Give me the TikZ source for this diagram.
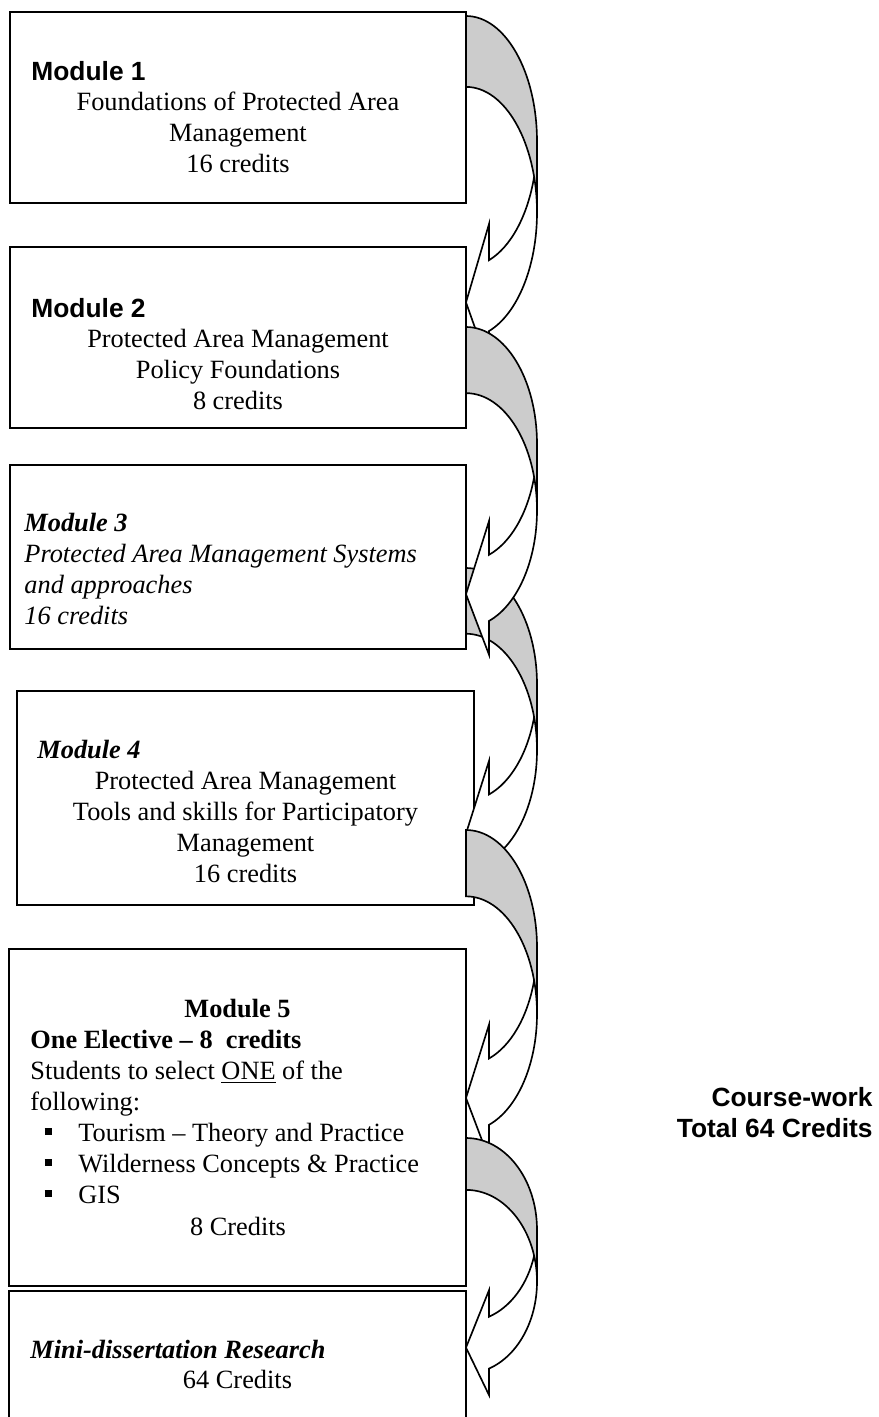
\documentclass[tikz,border=0pt]{standalone}
\usepackage{fontspec}
\setmainfont{Liberation Serif}
\newfontfamily\arialfont{Liberation Sans}
\usepackage{tikz}
\newcommand{\bul}{\makebox[21.8pt][l]{\hspace{6.5pt}\rule[2.7pt]{3.5pt}{3.2pt}}}
\newcommand{\bendarrow}[2]{%
  \begin{scope}[shift={(466,#1)}, yscale=#2]
    \fill[white] (0,0.8) -- (23,0.5811) -- (23,0.6821) arc[start angle=71.1, end angle=16.41, x radius=71, y radius=0.3505] arc[start angle=-16.41, end angle=71.1, x radius=71, y radius=0.3505] -- (23,0.9811) -- cycle;
    \fill[gray!40] (71,0.5485) arc[start angle=0, end angle=-90, x radius=71, y radius=0.3505] -- (0,0) arc[start angle=-90, end angle=0, x radius=71, y radius=0.3505] -- cycle;
    \draw[bendline] (71,0.5485) arc[start angle=0, end angle=-90, x radius=71, y radius=0.3505] -- (0,0) arc[start angle=-90, end angle=0, x radius=71, y radius=0.3505] -- (71,0.5485) arc[start angle=0, end angle=71.1, x radius=71, y radius=0.3505] -- (23,0.9811) -- (0,0.8) -- (23,0.5811) -- (23,0.6821) arc[start angle=71.1, end angle=16.41, x radius=71, y radius=0.3505];
  \end{scope}}

\begin{document}
\begin{tikzpicture}[x=0.016cm, y=-0.016cm,
	modbox/.style={draw, line width=0.6pt, inner sep=0},
	bendline/.style={line width=0.75pt, line join=miter},
	body/.style={inner sep=0, font=\fontsize{12}{14.1}\selectfont},
	ibody/.style={inner sep=0, font=\fontsize{12}{14.1}\selectfont\itshape},
	hdr/.style={inner sep=0, font=\arialfont\bfseries\fontsize{12}{14.1}\selectfont}]
	\useasboundingbox (0,0) rectangle (879,1417);
	\clip (0,0) rectangle (879,1417);
	\node[modbox, minimum width=7.296cm, minimum height=3.056cm] (box1) at (238,107.5) {};
	\node[modbox, minimum width=7.296cm, minimum height=2.896cm] (box2) at (238,337.5) {};
	\node[modbox, minimum width=7.296cm, minimum height=2.944cm] (box3) at (238,557) {};
	\node[modbox, minimum width=7.312cm, minimum height=3.424cm] (box4) at (245.5,798) {};
	\node[modbox, minimum width=7.312cm, minimum height=5.392cm] (box5) at (237.5,1117.5) {};
	\node[modbox, minimum width=7.312cm, minimum height=2.24cm] (box6) at (237.5,1361) {};

	% multi-line nodes sit on the baseline of their last line
	\node[hdr, anchor=base west] (m1h) at (31,80) {Module 1};
	\node[body, align=center, anchor=base] (m1t) at (238,172) {Foundations of Protected Area\\Management\\16 credits};
	\node[hdr, anchor=base west] (m2h) at (31,317) {Module 2};
	\node[body, align=center, anchor=base] (m2t) at (238,409) {Protected Area Management\\Policy Foundations\\8 credits};
	\node[ibody, align=left, anchor=base west] (m3t) at (24,624) {\textbf{Module 3}\\Protected Area Management Systems\\and approaches\\16 credits};
	\node[ibody, anchor=base west] (m4h) at (37,758) {\textbf{Module 4}};
	\node[body, align=center, anchor=base] (m4t) at (245.5,882) {Protected Area Management\\Tools and skills for Participatory\\Management\\16 credits};
	\node[body, anchor=base] (m5h) at (237.5,1017) {\textbf{Module 5}};
	\node[body, align=left, anchor=base west] (m5t) at (30,1203) {\textbf{One Elective -- 8~~credits}\\Students to select \underline{ONE} of the\\following:\\\bul Tourism -- Theory and Practice\\\bul Wilderness Concepts \& Practice\\\bul GIS};
	\node[body, anchor=base] (m5c) at (238,1235) {8 Credits};
	\node[ibody, anchor=base west] (m6h) at (30,1358) {\textbf{Mini-dissertation Research}};
	\node[body, anchor=base] (m6c) at (237.5,1388) {64 Credits};
	\node[hdr, align=right, anchor=base east] (total) at (873,1137) {Course-work\\Total 64 Credits};

	\bendarrow{16}{358}
	\bendarrow{568}{332}
	\bendarrow{327}{334}
	\bendarrow{830}{335}
	\bendarrow{1138}{262}
\end{tikzpicture}
\end{document}
